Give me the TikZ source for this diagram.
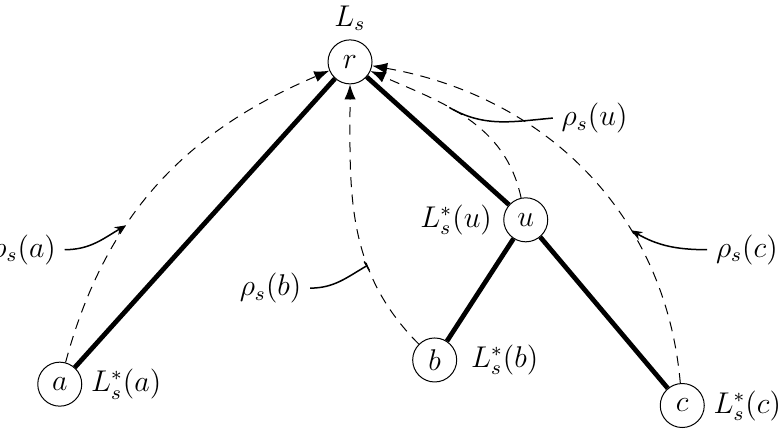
\documentclass[tikz,border=0pt]{standalone}
\usepackage{tikz}
\usetikzlibrary{arrows.meta, positioning}

\begin{document}
\begin{tikzpicture}[
      font=\large,
      vertex/.style={draw, circle, minimum size=17.6pt, inner sep=0pt},
      edge/.style={line width=1.9pt},
      flow/.style={dash pattern=on 4pt off 3pt, -{Latex[length=6pt, width=4.5pt]}},
      pointer/.style={semithick}
    ]
      \useasboundingbox (0,0) rectangle (11.02,6.07);
      % tree
      \node[vertex] (r) at (4.92,5.20) {$r$};
      \node[vertex] (a) at (0.84,0.67) {$a$};
      \node[vertex] (b) at (6.11,1.01) {$b$};
      \node[vertex] (u) at (7.39,2.98) {$u$};
      \node[vertex] (c) at (9.59,0.37) {$c$};
      \node[above=0pt of r] (Lr) {$L_s$};
      \node[right=0pt of a] (La) {$L^*_s(a)$};
      \node[right=2pt of b] (Lb) {$L^*_s(b)$};
      \node[left=1pt of u] (Lu) {$L^*_s(u)$};
      \node[right=0pt of c] (Lc) {$L^*_s(c)$};
      \draw[edge] (r) -- (a);
      \draw[edge] (r) -- (u);
      \draw[edge] (u) -- (b);
      \draw[edge] (u) -- (c);
      % paths back to the root
      \draw[flow] (a) to[out=75, in=203] coordinate[pos=0.36] (pa) (r);
      \draw[flow] (b) to[out=135, in=-90] coordinate[pos=0.34] (pb) (r);
      \draw[flow] (u) to[out=102, in=-24] coordinate[pos=0.6] (pu) (r);
      \draw[flow] (c) to[out=95, in=-10] coordinate[pos=0.335] (pc) (r);
      % labels of the paths
      \node[anchor=east] (ra) at (0.91,2.56) {$\rho_s(a)$};
      \node[anchor=east] (rb) at (4.36,2.02) {$\rho_s(b)$};
      \node[anchor=west] (ru) at (7.77,4.41) {$\rho_s(u)$};
      \node[anchor=west] (rc) at (9.94,2.56) {$\rho_s(c)$};
      \draw[pointer, -{Stealth[length=4.5pt, width=3.5pt]}] (ra.east) to[out=0, in=210] (pa);
      \draw[pointer, -{Bar[width=4pt]}] (rb.east) to[out=0, in=210] (pb);
      \draw[pointer] (ru.west) to[out=185, in=-30] (pu);
      \draw[pointer, -{Stealth[length=4.5pt, width=3.5pt]}] (rc.west) to[out=180, in=-30] (pc);
    \end{tikzpicture}
\end{document}
